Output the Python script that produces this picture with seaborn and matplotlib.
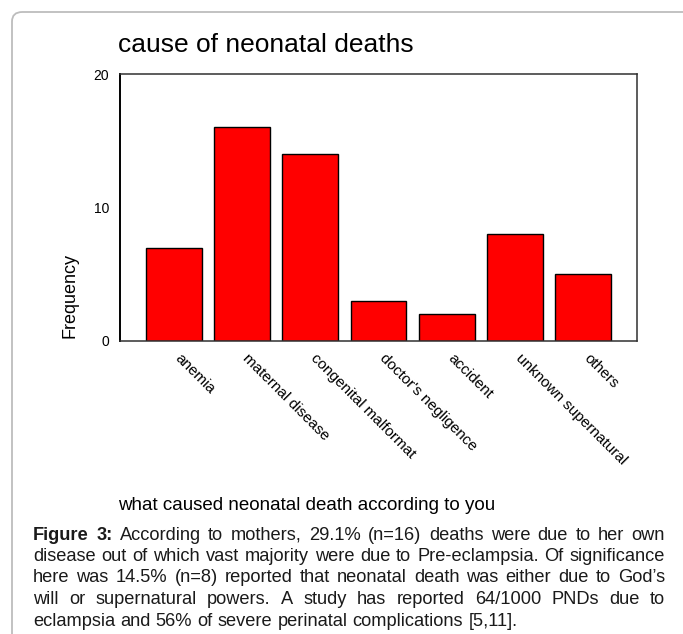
import matplotlib
matplotlib.use("Agg")
import matplotlib.pyplot as plt
import matplotlib.transforms as mtransforms
import seaborn as sns
import pandas as pd
from matplotlib.patches import FancyBboxPatch

# valeurs
causes = ["anemia", "maternal disease", "congenital malformat",
          "doctor's negligence", "accident", "unknown supernatural", "others"]
counts = [7, 16, 14, 3, 2, 8, 5]
y_ticks = [0, 10, 20]

title = "cause of neonatal deaths"
x_title = "what caused neonatal death according to you"
y_title = "Frequency"
caption_lines = [
    "According to mothers, 29.1% (n=16) deaths were due to her own",
    "disease out of which vast majority were due to Pre-eclampsia. Of significance",
    "here was 14.5% (n=8) reported that neonatal death was either due to God\u2019s",
    "will or supernatural powers. A study has reported 64/1000 PNDs due to",
    "eclampsia and 56% of severe perinatal complications [5,11].",
]

sns.set_style("white")
plt.rcParams["font.family"] = ["Liberation Sans", "DejaVu Sans"]
plt.rcParams["text.color"] = "black"
plt.rcParams["xtick.color"] = "black"
plt.rcParams["ytick.color"] = "black"

W, H = 683, 634
fig = plt.figure(figsize=(W / 100, H / 100), dpi=100)

# cadre gris arrondi
frame = FancyBboxPatch((12 / W, -0.2), 1.2, 1.2 - 12 / H,
                       boxstyle="round,pad=0,rounding_size=0.015",
                       transform=fig.transFigure, fill=False,
                       edgecolor="#bdbdbd", linewidth=1.3, clip_on=False)
fig.patches.append(frame)

ax = fig.add_axes([120 / W, 1 - 341 / H, 517 / W, 267 / H])
df = pd.DataFrame({"cause": causes, "count": counts})
sns.barplot(data=df, x="cause", y="count", color="#ff0000", saturation=1,
            edgecolor="black", linewidth=1, width=0.82, ax=ax)

ax.set_xlim(-0.79, len(causes) - 1 + 0.79)
ax.set_ylim(0, 20)
ax.set_yticks(y_ticks)
ax.set_xlabel("")
ax.set_ylabel("")
for side in ["top", "right", "bottom"]:
    ax.spines[side].set_color("#303030")
    ax.spines[side].set_linewidth(1.1)
ax.spines["left"].set_color("black")
ax.spines["left"].set_linewidth(1.4)
ax.tick_params(axis="both", direction="out", length=3, width=2, color="black")
ax.tick_params(axis="y", labelsize=10, pad=5)
ax.set_xticks(range(len(causes)))
ax.set_xticklabels(causes, rotation=-45, ha="left", va="top",
                   rotation_mode="anchor", fontsize=11)
ax.tick_params(axis="x", pad=4)
shift = mtransforms.ScaledTranslation(0.08, 0.0, fig.dpi_scale_trans)
for lab in ax.get_xticklabels():
    lab.set_transform(lab.get_transform() + shift)

fig.text(118 / W, 1 - 45 / H, title, fontsize=19, ha="left", va="center")
fig.text(70 / W, 1 - 295 / H, y_title, fontsize=13, rotation=90,
         ha="center", va="center")
fig.text(118 / W, 1 - 506 / H, x_title, fontsize=13.5, ha="left", va="center")

# légende justifiée, mot par mot
fig.canvas.draw()
renderer = fig.canvas.get_renderer()
left, right = 33, 665
line_y = [535, 556.5, 578, 599.5, 621]


def width_px(txt, size, weight="normal"):
    t = fig.text(0, 0, txt, fontsize=size, fontweight=weight)
    w = t.get_window_extent(renderer).width
    t.remove()
    return w


# taille telle que la ligne la plus dense remplisse la largeur
cap_size = 12 * (right - left) / width_px(caption_lines[1], 12) * 0.99

for i, (line, yy) in enumerate(zip(caption_lines, line_y)):
    words = line.split(" ")
    items = [(w, "normal") for w in words]
    if i == 0:
        items = [("Figure", "bold"), ("3:", "bold")] + items
    widths = [width_px(w, cap_size, wt) for w, wt in items]
    last = i == len(caption_lines) - 1
    if last:
        gap = width_px("a a", cap_size) - 2 * width_px("a", cap_size)
    else:
        gap = (right - left - sum(widths)) / (len(items) - 1)
    x = left
    for (w, wt), wd in zip(items, widths):
        fig.text(x / W, 1 - yy / H, w, fontsize=cap_size, fontweight=wt,
                 ha="left", va="center", color="#1a1a1a")
        x += wd + gap

fig.savefig("out.png", dpi=100)
